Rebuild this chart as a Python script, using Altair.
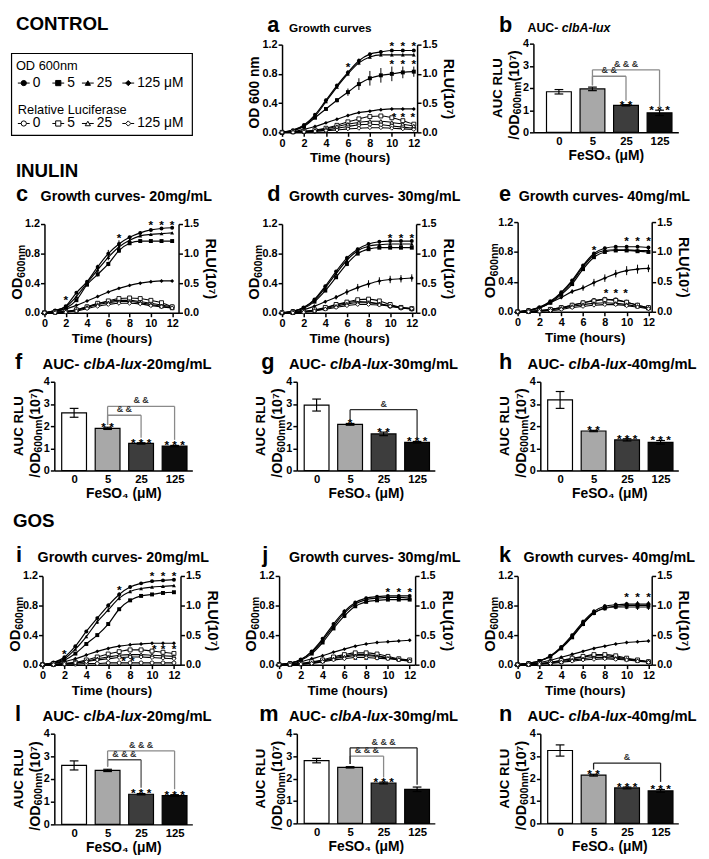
import json
import pandas as pd
import altair as alt

FONT = "Liberation Sans"

TIME = list(range(13))
CONC = ["0", "5", "25", "125"]
CONC_LEGEND = ["0", "5", "25", "125 μM"]

# ---------------- growth curves (rows: 0, 5, 25, 125 µM FeSO4) ----------------
A_OD = [[0.00, 0.03, 0.10, 0.24, 0.44, 0.64, 0.82, 0.98, 1.07, 1.10, 1.12, 1.12, 1.12],
        [0.00, 0.02, 0.08, 0.20, 0.32, 0.44, 0.55, 0.66, 0.74, 0.78, 0.80, 0.82, 0.83],
        [0.00, 0.03, 0.09, 0.22, 0.42, 0.62, 0.80, 0.95, 1.03, 1.06, 1.06, 1.06, 1.06],
        [0.00, 0.01, 0.04, 0.08, 0.13, 0.18, 0.23, 0.27, 0.29, 0.31, 0.32, 0.32, 0.32]]
A_ERR = [[0, 0, 0, 0, 0.02, 0.02, 0.03, 0.03, 0.02, 0.02, 0.02, 0.02, 0.02],
         [0, 0, 0, 0.01, 0.02, 0.03, 0.05, 0.08, 0.10, 0.10, 0.10, 0.08, 0.07],
         [0, 0, 0, 0, 0.02, 0.02, 0.03, 0.03, 0.02, 0.02, 0.02, 0.02, 0.02],
         [0, 0, 0, 0, 0, 0.01, 0.01, 0.01, 0.01, 0.01, 0.01, 0.01, 0.01]]
A_RLU = [[0.00, 0.01, 0.01, 0.02, 0.04, 0.07, 0.10, 0.13, 0.14, 0.13, 0.11, 0.09, 0.07],
         [0.00, 0.01, 0.02, 0.04, 0.07, 0.12, 0.18, 0.23, 0.27, 0.28, 0.25, 0.20, 0.14],
         [0.00, 0.01, 0.02, 0.03, 0.06, 0.10, 0.14, 0.17, 0.19, 0.19, 0.17, 0.14, 0.11],
         [0.00, 0.00, 0.01, 0.02, 0.03, 0.04, 0.06, 0.07, 0.08, 0.08, 0.07, 0.06, 0.05]]
A_STAR_T = [6, 10, 11, 12, 10, 11, 12, 10.2, 11, 11.9]
A_STAR_Y = [0.94, 1.22, 1.22, 1.22, 0.98, 0.98, 0.98, 0.25, 0.25, 0.25]

C_OD = [[0.00, 0.03, 0.09, 0.27, 0.42, 0.62, 0.80, 0.93, 1.02, 1.08, 1.12, 1.14, 1.15],
        [0.00, 0.02, 0.06, 0.17, 0.38, 0.52, 0.66, 0.84, 0.94, 0.97, 0.97, 0.97, 0.97],
        [0.00, 0.03, 0.08, 0.22, 0.40, 0.58, 0.75, 0.89, 0.98, 1.04, 1.06, 1.07, 1.08],
        [0.00, 0.02, 0.05, 0.10, 0.16, 0.22, 0.28, 0.33, 0.37, 0.40, 0.42, 0.43, 0.43]]
C_ERR = [[0, 0, 0, 0, 0.02, 0.03, 0.05, 0.05, 0.02, 0.02, 0.01, 0.01, 0.01],
         [0, 0, 0, 0, 0.02, 0.03, 0.03, 0.03, 0.02, 0.02, 0.01, 0.01, 0.01],
         [0, 0, 0, 0, 0.02, 0.03, 0.04, 0.03, 0.02, 0.01, 0.01, 0.01, 0.01],
         [0, 0, 0, 0, 0, 0, 0.01, 0.01, 0.01, 0.01, 0.01, 0.01, 0.01]]
C_RLU = [[0.00, 0.01, 0.02, 0.05, 0.10, 0.15, 0.19, 0.21, 0.21, 0.19, 0.16, 0.13, 0.10],
         [0.00, 0.01, 0.02, 0.05, 0.10, 0.16, 0.20, 0.24, 0.25, 0.24, 0.21, 0.17, 0.10],
         [0.00, 0.01, 0.02, 0.04, 0.09, 0.14, 0.17, 0.19, 0.19, 0.17, 0.14, 0.11, 0.08],
         [0.00, 0.00, 0.01, 0.03, 0.07, 0.11, 0.14, 0.16, 0.16, 0.15, 0.12, 0.10, 0.08]]
C_STAR_T = [2, 7, 10, 11, 12]
C_STAR_Y = [0.21, 1.05, 1.22, 1.22, 1.22]

D_OD = [[0.00, 0.02, 0.07, 0.18, 0.36, 0.56, 0.74, 0.86, 0.93, 0.96, 0.97, 0.97, 0.97],
        [0.00, 0.02, 0.06, 0.15, 0.30, 0.48, 0.66, 0.80, 0.86, 0.88, 0.88, 0.88, 0.88],
        [0.00, 0.02, 0.07, 0.17, 0.34, 0.53, 0.71, 0.84, 0.90, 0.92, 0.93, 0.93, 0.93],
        [0.00, 0.01, 0.04, 0.09, 0.15, 0.21, 0.28, 0.34, 0.39, 0.43, 0.45, 0.46, 0.47]]
D_ERR = [[0, 0, 0, 0, 0.02, 0.02, 0.03, 0.02, 0.02, 0.01, 0.01, 0.01, 0.01],
         [0, 0, 0, 0, 0.02, 0.02, 0.03, 0.02, 0.02, 0.01, 0.01, 0.01, 0.01],
         [0, 0, 0, 0, 0.02, 0.02, 0.03, 0.02, 0.02, 0.01, 0.01, 0.01, 0.01],
         [0, 0, 0, 0.01, 0.02, 0.03, 0.04, 0.05, 0.05, 0.05, 0.05, 0.05, 0.05]]
D_RLU = [[0.00, 0.01, 0.02, 0.04, 0.08, 0.13, 0.17, 0.19, 0.18, 0.15, 0.11, 0.08, 0.06],
         [0.00, 0.01, 0.02, 0.05, 0.09, 0.14, 0.18, 0.22, 0.23, 0.20, 0.14, 0.09, 0.07],
         [0.00, 0.00, 0.02, 0.04, 0.07, 0.11, 0.15, 0.17, 0.17, 0.15, 0.12, 0.09, 0.07],
         [0.00, 0.00, 0.01, 0.03, 0.06, 0.09, 0.12, 0.14, 0.14, 0.13, 0.11, 0.09, 0.07]]
D_STAR_T = [10, 11, 12]
D_STAR_Y = [1.05, 1.05, 1.05]

E_OD = [[0.00, 0.02, 0.06, 0.14, 0.26, 0.42, 0.62, 0.78, 0.85, 0.87, 0.87, 0.87, 0.86],
        [0.00, 0.02, 0.05, 0.12, 0.23, 0.37, 0.57, 0.73, 0.80, 0.82, 0.82, 0.81, 0.80],
        [0.00, 0.02, 0.06, 0.13, 0.25, 0.40, 0.60, 0.76, 0.82, 0.83, 0.83, 0.82, 0.82],
        [0.00, 0.02, 0.05, 0.12, 0.19, 0.27, 0.32, 0.39, 0.45, 0.51, 0.55, 0.57, 0.58]]
E_ERR = [[0, 0, 0, 0, 0.01, 0.02, 0.02, 0.02, 0.02, 0.02, 0.02, 0.02, 0.02],
         [0, 0, 0, 0, 0.01, 0.02, 0.02, 0.02, 0.02, 0.02, 0.02, 0.02, 0.02],
         [0, 0, 0, 0, 0.01, 0.02, 0.02, 0.02, 0.02, 0.02, 0.02, 0.02, 0.02],
         [0, 0, 0, 0.01, 0.02, 0.03, 0.04, 0.05, 0.05, 0.05, 0.06, 0.06, 0.05]]
E_RLU = [[0.00, 0.01, 0.02, 0.04, 0.07, 0.11, 0.15, 0.19, 0.21, 0.20, 0.16, 0.11, 0.07],
         [0.00, 0.01, 0.02, 0.04, 0.07, 0.11, 0.15, 0.18, 0.20, 0.19, 0.16, 0.11, 0.07],
         [0.00, 0.00, 0.01, 0.03, 0.06, 0.09, 0.12, 0.14, 0.15, 0.14, 0.12, 0.09, 0.06],
         [0.00, 0.00, 0.01, 0.02, 0.04, 0.07, 0.09, 0.11, 0.12, 0.12, 0.10, 0.08, 0.05]]
E_STAR_T = [7, 10, 11, 12, 8.1, 9, 9.9]
E_STAR_Y = [0.86, 0.98, 0.98, 0.98, 0.29, 0.29, 0.29]

I_OD = [[0.00, 0.03, 0.10, 0.25, 0.45, 0.63, 0.80, 0.95, 1.05, 1.10, 1.13, 1.14, 1.15],
        [0.00, 0.02, 0.06, 0.15, 0.28, 0.40, 0.55, 0.75, 0.87, 0.93, 0.95, 0.97, 0.98],
        [0.00, 0.03, 0.08, 0.21, 0.38, 0.58, 0.74, 0.90, 0.99, 1.03, 1.05, 1.06, 1.07],
        [0.00, 0.02, 0.04, 0.08, 0.13, 0.18, 0.22, 0.25, 0.27, 0.28, 0.29, 0.29, 0.29]]
I_ERR = [[0, 0, 0, 0, 0.02, 0.02, 0.03, 0.03, 0.02, 0.01, 0.01, 0.01, 0.01],
         [0, 0, 0, 0, 0.02, 0.02, 0.02, 0.02, 0.02, 0.01, 0.01, 0.01, 0.01],
         [0, 0, 0, 0, 0.02, 0.03, 0.03, 0.03, 0.02, 0.01, 0.01, 0.01, 0.01],
         [0, 0, 0, 0, 0, 0, 0.01, 0.01, 0.01, 0.01, 0.01, 0.01, 0.01]]
I_RLU = [[0.00, 0.00, 0.01, 0.01, 0.02, 0.02, 0.03, 0.03, 0.03, 0.03, 0.03, 0.03, 0.03],
         [0.00, 0.01, 0.02, 0.04, 0.08, 0.13, 0.18, 0.22, 0.25, 0.25, 0.23, 0.21, 0.19],
         [0.00, 0.00, 0.02, 0.03, 0.06, 0.10, 0.13, 0.16, 0.17, 0.17, 0.16, 0.15, 0.14],
         [0.00, 0.00, 0.01, 0.03, 0.05, 0.08, 0.10, 0.12, 0.13, 0.13, 0.12, 0.11, 0.10]]
I_STAR_T = [2, 7, 10, 11, 12, 10.2, 11, 12, 7.4, 8.2]
I_STAR_Y = [0.19, 1.05, 1.24, 1.24, 1.24, 0.25, 0.25, 0.25, 0.09, 0.09]

J_OD = [[0.00, 0.02, 0.07, 0.18, 0.35, 0.55, 0.72, 0.84, 0.90, 0.92, 0.93, 0.93, 0.93],
        [0.00, 0.02, 0.06, 0.15, 0.30, 0.49, 0.66, 0.79, 0.85, 0.87, 0.88, 0.88, 0.88],
        [0.00, 0.02, 0.07, 0.17, 0.33, 0.52, 0.70, 0.82, 0.88, 0.90, 0.91, 0.91, 0.90],
        [0.00, 0.01, 0.04, 0.08, 0.12, 0.17, 0.21, 0.25, 0.28, 0.30, 0.31, 0.32, 0.33]]
J_ERR = [[0, 0, 0, 0, 0.02, 0.02, 0.03, 0.02, 0.02, 0.01, 0.01, 0.01, 0.01],
         [0, 0, 0, 0, 0.02, 0.02, 0.03, 0.02, 0.02, 0.01, 0.01, 0.01, 0.01],
         [0, 0, 0, 0, 0.02, 0.02, 0.03, 0.02, 0.02, 0.01, 0.01, 0.01, 0.01],
         [0, 0, 0, 0, 0.01, 0.01, 0.01, 0.01, 0.01, 0.01, 0.01, 0.01, 0.01]]
J_RLU = [[0.00, 0.01, 0.02, 0.04, 0.07, 0.11, 0.15, 0.17, 0.17, 0.15, 0.12, 0.09, 0.07],
         [0.00, 0.01, 0.02, 0.05, 0.08, 0.13, 0.17, 0.20, 0.20, 0.18, 0.14, 0.10, 0.08],
         [0.00, 0.00, 0.01, 0.03, 0.06, 0.10, 0.13, 0.15, 0.15, 0.14, 0.11, 0.09, 0.07],
         [0.00, 0.00, 0.01, 0.02, 0.05, 0.08, 0.10, 0.12, 0.12, 0.11, 0.10, 0.08, 0.06]]
J_STAR_T = [10, 11, 12, 7, 8, 9]
J_STAR_Y = [1.02, 1.02, 1.02, 0.1, 0.1, 0.1]

K_OD = [[0.00, 0.02, 0.05, 0.12, 0.24, 0.40, 0.58, 0.72, 0.79, 0.81, 0.82, 0.82, 0.82],
        [0.00, 0.02, 0.05, 0.11, 0.22, 0.37, 0.55, 0.70, 0.77, 0.79, 0.80, 0.80, 0.80],
        [0.00, 0.02, 0.05, 0.11, 0.23, 0.38, 0.56, 0.70, 0.76, 0.78, 0.78, 0.78, 0.78],
        [0.00, 0.01, 0.03, 0.06, 0.10, 0.14, 0.18, 0.22, 0.25, 0.28, 0.30, 0.31, 0.32]]
K_ERR = [[0, 0, 0, 0, 0.02, 0.02, 0.03, 0.03, 0.03, 0.03, 0.03, 0.04, 0.04],
         [0, 0, 0, 0, 0.02, 0.02, 0.03, 0.03, 0.03, 0.03, 0.03, 0.04, 0.04],
         [0, 0, 0, 0, 0.02, 0.02, 0.03, 0.03, 0.03, 0.03, 0.03, 0.04, 0.04],
         [0, 0, 0, 0, 0.01, 0.01, 0.01, 0.01, 0.01, 0.01, 0.01, 0.01, 0.01]]
K_RLU = [[0.00, 0.01, 0.02, 0.04, 0.07, 0.10, 0.13, 0.15, 0.15, 0.13, 0.10, 0.07, 0.05],
         [0.00, 0.01, 0.02, 0.04, 0.07, 0.11, 0.14, 0.17, 0.17, 0.15, 0.11, 0.08, 0.05],
         [0.00, 0.00, 0.01, 0.03, 0.05, 0.08, 0.10, 0.12, 0.12, 0.11, 0.09, 0.07, 0.05],
         [0.00, 0.00, 0.01, 0.02, 0.04, 0.06, 0.08, 0.09, 0.10, 0.09, 0.08, 0.06, 0.04]]
K_STAR_T = [10, 11, 12]
K_STAR_Y = [0.95, 0.95, 0.95]

# ---------------- AUC bar charts ----------------
B_MEAN = [1.83, 1.96, 1.22, 0.88]
B_SEM = [0.10, 0.08, 0.03, 0.12]
B_STARS = ["", "", "* *", "* * *"]
B_BRACKETS = [(1, 2, 2.53, 2.12, 1.42, "& &", "#8a8a8a"), (1, 3, 2.82, 2.12, 1.10, "& & &", "#8a8a8a")]

F_MEAN = [2.60, 1.90, 1.22, 1.10]
F_SEM = [0.20, 0.05, 0.03, 0.03]
F_STARS = ["", "* *", "* * *", "* * *"]
F_BRACKETS = [(1, 2, 2.49, 2.05, 1.48, "& &", "#8a8a8a"), (1, 3, 2.89, 2.05, 1.38, "& &", "#8a8a8a")]

G_MEAN = [2.95, 2.08, 1.65, 1.27]
G_SEM = [0.27, 0.04, 0.08, 0.04]
G_STARS = ["", "*", "* *", "* * *"]
G_BRACKETS = [(1, 3, 2.74, 2.25, 1.45, "&", "#303030")]

H_MEAN = [3.18, 1.78, 1.38, 1.27]
H_SEM = [0.38, 0.03, 0.05, 0.08]
H_STARS = ["", "* *", "* * *", "* * *"]
H_BRACKETS = []

L_MEAN = [2.60, 2.38, 1.33, 1.27]
L_SEM = [0.20, 0.05, 0.03, 0.04]
L_STARS = ["", "", "* * *", "* * *"]
L_BRACKETS = [(1, 2, 2.85, 2.55, 1.62, "& & &", "#505050"), (1, 3, 3.24, 2.55, 1.55, "& & &", "#8a8a8a")]

M_MEAN = [2.80, 2.50, 1.80, 1.52]
M_SEM = [0.10, 0.03, 0.04, 0.10]
M_STARS = ["", "", "* * *", ""]
M_BRACKETS = [(1, 2, 3.00, 2.65, 2.05, "& & &", "#8a8a8a"), (1, 3, 3.37, 2.65, 1.72, "& & &", "#202020")]

N_MEAN = [3.25, 2.15, 1.58, 1.45]
N_SEM = [0.25, 0.04, 0.04, 0.06]
N_STARS = ["", "* *", "* * *", "* * *"]
N_BRACKETS = [(1, 3, 2.69, 2.40, 1.85, "&", "#202020")]

# ---------------- layout & styling (page pixels) ----------------
W, H = 700, 850
OX, OY = 8, 8
SHAPES = ["circle", "square", "triangle-up", "diamond"]
BAR_FILLS = ["#ffffff", "#a8a8a8", "#3d3d3d", "#0c0c0c"]
LEG_X = [15, 50, 80, 121]

CW = {" ": 278, "-": 333, "/": 278, "(": 333, ")": 333, "A": 722, "C": 722, "D": 722, "G": 778,
      "L": 611, "M": 833, "N": 722, "O": 778, "R": 722, "U": 722, "b": 611, "c": 556, "e": 556,
      "g": 611, "h": 611, "i": 278, "l": 278, "m": 889, "n": 611, "o": 611, "r": 389, "s": 556,
      "t": 333, "u": 611, "v": 556, "w": 778, "x": 556}


def text_width(s, size):
    return sum(CW.get(ch, 556) for ch in s) * size / 1000.0


ONE = pd.DataFrame({"k": [0]})


def label(text, x, y, size, italic=False, weight="bold", angle=0):
    return alt.Chart(ONE).mark_text(
        text=text, font=FONT, fontSize=size, fontWeight=weight,
        fontStyle="italic" if italic else "normal", align="left", angle=angle,
        baseline="alphabetic", color="black").encode(x=alt.value(x - OX), y=alt.value(y - OY))


def panel_title(letter, parts, lx, tx, by, size):
    out = [label(letter, lx, by, 22)]
    x = tx
    for txt, it in parts:
        out.append(label(txt, x, by, size, italic=it))
        x += text_width(txt, size)
    return out


def vtext(segments, xb, y0):
    """rotated (bottom-to-top) text made of segments (text, size, baseline shift)"""
    out = []
    y = y0
    for txt, size, shift in segments:
        out.append(label(txt, xb + shift, y, size, angle=270))
        y -= text_width(txt, size)
    return out


def vtext_centered(segments, xb, yc):
    total = sum(text_width(t, s) for t, s, _ in segments)
    return vtext(segments, xb, yc + total / 2)


def growth(od, err, rlu, st_t, st_y, geom, od_title):
    L, R, T, B, xmax = geom
    rows = []
    for ci, c in enumerate(CONC):
        for ti, t in enumerate(TIME):
            rows.append({"time": t, "conc": c, "od": od[ci][ti], "err": err[ci][ti],
                         "rlu": rlu[ci][ti]})
    df = pd.DataFrame(rows)
    xenc = alt.X("time:Q", scale=alt.Scale(domain=[0, xmax], range=[L - OX, R - OX],
                                           nice=False, zero=False),
                 axis=alt.Axis(values=[0, 2, 4, 6, 8, 10, 12], title="Time (hours)", format="d",
                               titleFontSize=13.5, labelFontSize=11, orient="bottom",
                               offset=(B - OY) - H))

    def yod(field):
        return alt.Y(field, type="quantitative",
                     scale=alt.Scale(domain=[0, 1.2], range=[B - OY, T - OY], nice=False),
                     axis=alt.Axis(values=[0, 0.4, 0.8, 1.2], format=".1f", title=None,
                                   orient="left", labelFontSize=11, offset=-(L - OX)))

    def yrl(field):
        return alt.Y(field, type="quantitative",
                     scale=alt.Scale(domain=[0, 1.5], range=[B - OY, T - OY], nice=False),
                     axis=alt.Axis(values=[0, 0.5, 1.0, 1.5], format=".1f", title="RLU(10⁷)",
                                   orient="right", titleFontSize=14.5, labelFontSize=11,
                                   offset=(R - OX) - W, titlePadding=4))

    shape = alt.Shape("conc:N", scale=alt.Scale(domain=CONC, range=SHAPES), legend=None)
    base = alt.Chart(df)
    od_line = base.mark_line(color="black", strokeWidth=1.2, interpolate="monotone").encode(
        x=xenc, y=yod("od"), detail="conc:N")
    od_err = base.transform_filter("datum.err > 0").transform_calculate(
        lo="datum.od - datum.err", hi="datum.od + datum.err").mark_rule(
        color="black", strokeWidth=1).encode(x=xenc, y=yod("lo"), y2=alt.Y2("hi"))
    od_pts = base.mark_point(filled=True, color="black", size=16, opacity=1).encode(
        x=xenc, y=yod("od"), shape=shape)
    sdf = pd.DataFrame({"time": st_t, "sy": st_y})
    stars = alt.Chart(sdf).mark_text(text="*", font=FONT, fontSize=12, fontWeight="bold",
                                     baseline="middle", dy=3, color="black").encode(
        x=xenc, y=yod("sy"))
    rl_line = base.mark_line(color="black", strokeWidth=1.1, interpolate="monotone").encode(
        x=xenc, y=yrl("rlu"), detail="conc:N")
    rl_pts = base.mark_point(filled=True, fill="white", stroke="black", strokeWidth=0.9,
                             size=16, opacity=1).encode(x=xenc, y=yrl("rlu"), shape=shape)
    od_group = alt.layer(od_line, od_err, od_pts, stars)
    rl_group = alt.layer(rl_line, rl_pts)
    panel = alt.layer(od_group, rl_group).resolve_scale(y="independent")
    ytitle = vtext_centered(od_title, L - 23, (T + B) / 2 + 4)
    return [panel] + ytitle


def bars(mean, sem, stars, brackets, geom):
    L, R, T, B, xdom = geom
    df = pd.DataFrame({"idx": [0, 1, 2, 3], "conc": CONC, "mean": mean, "sem": sem,
                       "stars": stars})
    xs = alt.Scale(domain=list(xdom), range=[L - OX, R - OX], nice=False, zero=False)
    xax = alt.Axis(values=[0, 1, 2, 3], labelExpr=json.dumps(CONC) + "[datum.value]",
                   ticks=False, title="FeSO₄ (μM)", titleFontSize=14, labelFontSize=11.5,
                   labelPadding=3, orient="bottom", offset=(B - OY) - H, titlePadding=2)

    def xe(f):
        return alt.X(f, type="quantitative", scale=xs, axis=xax)

    def ye(f):
        return alt.Y(f, type="quantitative",
                     scale=alt.Scale(domain=[0, 4], range=[B - OY, T - OY], nice=False),
                     axis=alt.Axis(values=[0, 1, 2, 3, 4], format="d", title=None,
                                   labelFontSize=11, orient="left", offset=-(L - OX)))

    base = alt.Chart(df).transform_calculate(
        x0="datum.idx - 0.37", x1="datum.idx + 0.37", lo="datum.mean - datum.sem",
        hi="datum.mean + datum.sem", c0="datum.idx - 0.13", c1="datum.idx + 0.13",
        zero="0")
    rect = base.mark_rect(stroke="black", strokeWidth=1.2).encode(
        x=xe("x0"), x2=alt.X2("x1"), y=ye("mean"), y2=alt.Y2("zero"),
        fill=alt.Fill("conc:N", scale=alt.Scale(domain=CONC, range=BAR_FILLS), legend=None))
    err = base.mark_rule(color="black", strokeWidth=1.2).encode(
        x=xe("idx"), y=ye("lo"), y2=alt.Y2("hi"))
    cap_hi = base.mark_rule(color="black", strokeWidth=1.2).encode(
        x=xe("c0"), x2=alt.X2("c1"), y=ye("hi"))
    cap_lo = base.mark_rule(color="black", strokeWidth=1.2).encode(
        x=xe("c0"), x2=alt.X2("c1"), y=ye("lo"))
    st = base.mark_text(font=FONT, fontSize=12, fontWeight="bold", baseline="alphabetic",
                        dy=4, color="black").encode(x=xe("idx"), y=ye("hi"), text="stars:N")
    layers = [rect, err, cap_hi, cap_lo, st]
    if brackets:
        bdf = pd.DataFrame(brackets, columns=["xf", "xt", "h", "lf", "lt", "lab", "col"])
        bb = alt.Chart(bdf).transform_calculate(mid="(datum.xf + datum.xt) / 2")
        col = alt.Color("col:N", scale=None)
        layers += [
            bb.mark_rule(strokeWidth=1.3).encode(x=xe("xf"), x2=alt.X2("xt"), y=ye("h"), color=col),
            bb.mark_rule(strokeWidth=1.3).encode(x=xe("xf"), y=ye("h"), y2=alt.Y2("lf"), color=col),
            bb.mark_rule(strokeWidth=1.3).encode(x=xe("xt"), y=ye("h"), y2=alt.Y2("lt"), color=col),
            bb.mark_text(font=FONT, fontSize=9, fontWeight="bold", baseline="bottom", dy=-1,
                         color="#333333").encode(x=xe("mid"), y=ye("h"), text="lab:N"),
        ]
    panel = alt.layer(*layers)
    yc = (T + B) / 2
    t1 = vtext_centered([("AUC RLU", 13.5, 0)], L - 32, yc)
    t2 = vtext_centered([("/OD", 14.5, 0), ("600nm", 10.5, 2.5), (" (10⁷)", 14.5, 0)],
                        L - 15, yc + 4)
    return [panel] + t1 + t2


def legend_panel():
    items = []
    for yrow, filled in [(77, True), (118, False)]:
        for i, lab in enumerate(CONC_LEGEND):
            items.append({"px": LEG_X[i] - OX, "px2": LEG_X[i] + 12 - OX,
                          "pm": LEG_X[i] + 6 - OX, "pt": LEG_X[i] + 15 - OX,
                          "py": yrow - OY, "shape": SHAPES[i], "lab": lab,
                          "fill": "black" if filled else "white"})
    df = pd.DataFrame(items)
    base = alt.Chart(df)
    box = alt.Chart(ONE).mark_rect(fill="white", stroke="black", strokeWidth=1.2).encode(
        x=alt.value(8 - OX + 0.6), x2=alt.value(192 - OX), y=alt.value(47 - OY),
        y2=alt.value(130 - OY))
    rules = base.mark_rule(color="black", strokeWidth=1).encode(
        x=alt.X("px:Q", scale=None), x2=alt.X2("px2"), y=alt.Y("py:Q", scale=None))
    pts = base.mark_point(filled=True, stroke="black", strokeWidth=1, size=28, opacity=1).encode(
        x=alt.X("pm:Q", scale=None), y=alt.Y("py:Q", scale=None),
        shape=alt.Shape("shape:N", scale=None), fill=alt.Fill("fill:N", scale=None))
    texts = base.mark_text(font=FONT, fontSize=14, align="left", baseline="middle",
                           color="black").encode(
        x=alt.X("pt:Q", scale=None), y=alt.Y("py:Q", scale=None), text="lab:N")
    return [box, rules, pts, texts,
            label("OD 600nm", 13, 64, 13, weight="normal"),
            label("Relative Luciferase", 15, 108, 13, weight="normal")]


def gt(txt):
    return [(txt, False)]


def auct(suffix):
    parts = [("AUC- ", False), ("clbA-lux", True)]
    if suffix:
        parts.append((suffix, False))
    return parts


OD_T = [("OD", 15, 0), ("600nm", 10.5, 3)]

layers = []
layers += legend_panel()
layers += [label("CONTROL", 13, 23, 19), label("INULIN", 13, 172, 19), label("GOS", 10, 527, 19)]

# growth panels: (left, right, top, bottom, x max)
layers += growth(A_OD, A_ERR, A_RLU, A_STAR_T, A_STAR_Y, (283, 420, 38, 127, 12.3),
                 [("OD 600 nm", 14, 0)])
layers += panel_title("a", gt("Growth curves"), 268, 290, 25, 12)
layers += growth(C_OD, C_ERR, C_RLU, C_STAR_T, C_STAR_Y, (42, 178, 220, 310, 12.6), OD_T)
layers += panel_title("c", gt("Growth curves- 20mg/mL"), 13, 38, 197, 14.5)
layers += growth(D_OD, D_ERR, D_RLU, D_STAR_T, D_STAR_Y, (283, 419, 220, 310, 12.4), OD_T)
layers += panel_title("d", gt("Growth curves- 30mg/mL"), 268, 290, 197, 14.5)
layers += growth(E_OD, E_ERR, E_RLU, E_STAR_T, E_STAR_Y, (522, 658, 218, 309, 12.3), OD_T)
layers += panel_title("e", gt("Growth curves- 40mg/mL"), 503, 523, 197, 14.5)
layers += growth(I_OD, I_ERR, I_RLU, I_STAR_T, I_STAR_Y, (40, 180, 577, 667, 12.6), OD_T)
layers += panel_title("i", gt("Growth curves- 20mg/mL"), 13, 35, 563, 14.5)
layers += growth(J_OD, J_ERR, J_RLU, J_STAR_T, J_STAR_Y, (280, 418, 577, 667, 12.5), OD_T)
layers += panel_title("j", gt("Growth curves- 30mg/mL"), 263, 290, 563, 14.5)
layers += growth(K_OD, K_ERR, K_RLU, K_STAR_T, K_STAR_Y, (522, 658, 577, 667, 12.3), OD_T)
layers += panel_title("k", gt("Growth curves- 40mg/mL"), 503, 528, 563, 14.5)

# bar panels: (left, right, top, bottom, x domain)
BD = (-0.59, 3.53)
layers += bars(B_MEAN, B_SEM, B_STARS, B_BRACKETS, (538, 685, 37, 127, (-0.76, 3.56)))
layers += panel_title("b", auct(""), 503, 532, 25, 12.5)
layers += bars(F_MEAN, F_SEM, F_STARS, F_BRACKETS, (52, 192, 380, 470, BD))
layers += panel_title("f", auct("-20mg/mL"), 12, 40, 367, 15)
layers += bars(G_MEAN, G_SEM, G_STARS, G_BRACKETS, (298, 438, 380, 470, BD))
layers += panel_title("g", auct("-30mg/mL"), 262, 290, 367, 15)
layers += bars(H_MEAN, H_SEM, H_STARS, H_BRACKETS, (545, 685, 380, 470, BD))
layers += panel_title("h", auct("-40mg/mL"), 503, 532, 367, 15)
layers += bars(L_MEAN, L_SEM, L_STARS, L_BRACKETS, (52, 192, 737, 829, BD))
layers += panel_title("l", auct("-20mg/mL"), 12, 40, 724, 15)
layers += bars(M_MEAN, M_SEM, M_STARS, M_BRACKETS, (298, 438, 737, 828, BD))
layers += panel_title("m", auct("-30mg/mL"), 260, 290, 724, 15)
layers += bars(N_MEAN, N_SEM, N_STARS, N_BRACKETS, (545, 685, 737, 828, BD))
layers += panel_title("n", auct("-40mg/mL"), 503, 532, 724, 15)

chart = alt.layer(*layers).resolve_scale(
    x="independent", y="independent", shape="independent", fill="independent",
    color="independent").properties(width=W, height=H, padding=0, background="white")

chart = chart.configure_view(stroke=None).configure_axis(
    labelFont=FONT, titleFont=FONT, labelFontWeight="bold", titleFontWeight="bold",
    labelColor="black", titleColor="black", domainColor="black", tickColor="black",
    domainWidth=1.5, tickWidth=1.5, tickSize=4, grid=False, labelPadding=1, titlePadding=3,
    labelFlush=False, labelOverlap=False)

chart.save("out.html", embed_options={"renderer": "svg", "actions": False})
